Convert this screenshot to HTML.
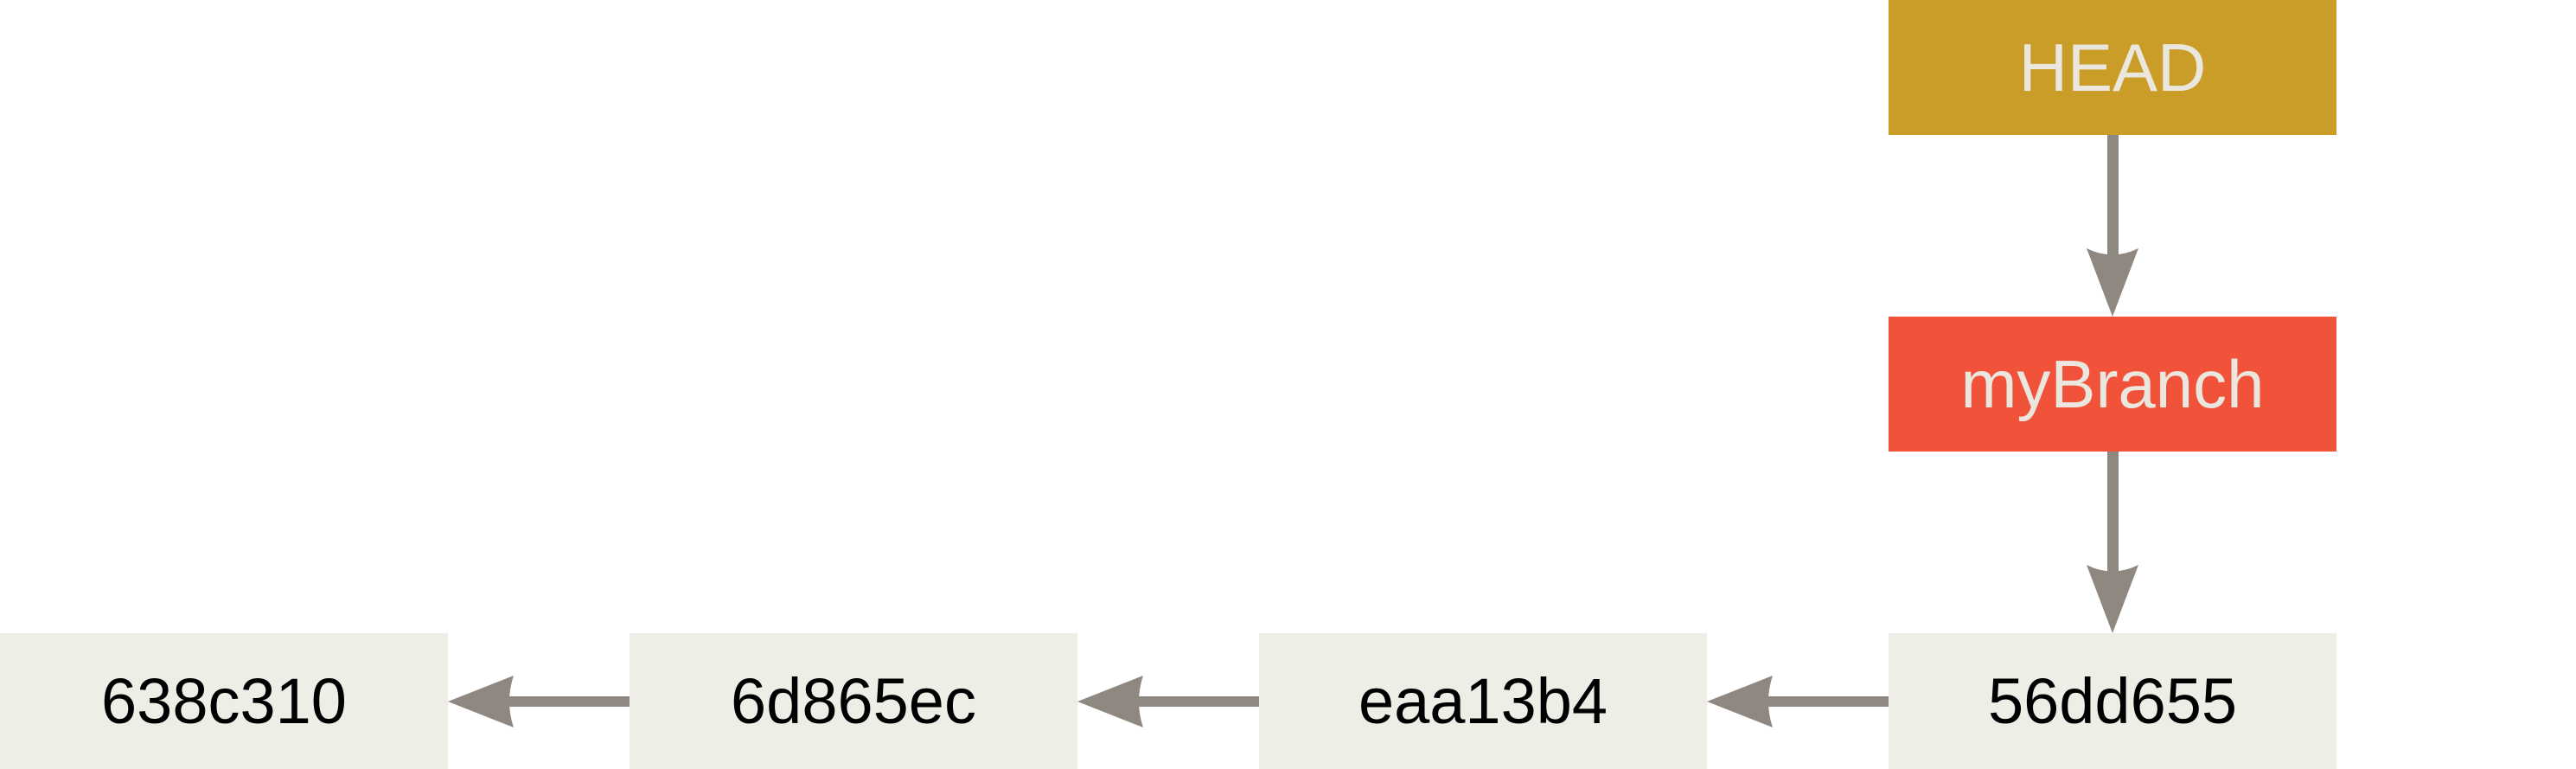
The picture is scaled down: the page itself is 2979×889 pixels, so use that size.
<!DOCTYPE html>
<html><head><style>
html,body{margin:0;padding:0;background:#fff;}
body{width:2979px;height:889px;position:relative;overflow:hidden;font-family:"Liberation Sans",sans-serif;}
.b{position:absolute;width:518px;display:flex;align-items:center;justify-content:center;font-size:78px;}
.c{background:#eeede6;color:#000;top:732px;height:157px;font-size:74px;}
</style></head><body>
<div class="b" style="left:2184px;top:0;height:156px;background:#c99d28;color:#ebe7de;">HEAD</div>
<div class="b" style="left:2184px;top:366px;height:156px;background:#f1523a;color:#ebe7de;">myBranch</div>
<div class="b c" style="left:0">638c310</div>
<div class="b c" style="left:728px">6d865ec</div>
<div class="b c" style="left:1456px">eaa13b4</div>
<div class="b c" style="left:2184px">56dd655</div>
<svg width="2979" height="889" style="position:absolute;left:0;top:0">
<g fill="#8f8881">
<rect x="2437" y="156" width="13" height="140"/>
<path d="M2443 366 L2413 287 Q2443 302 2473 287 Z"/>
<rect x="2437" y="522" width="13" height="140"/>
<path d="M2443 732 L2413 653 Q2443 668 2473 653 Z"/>
<rect x="580" y="805" width="148" height="12"/>
<path d="M518 811 L594 781 Q584 811 594 841 Z"/>
<rect x="1308" y="805" width="148" height="12"/>
<path d="M1246 811 L1322 781 Q1312 811 1322 841 Z"/>
<rect x="2036" y="805" width="148" height="12"/>
<path d="M1974 811 L2050 781 Q2040 811 2050 841 Z"/>
</g>
</svg>
</body></html>
